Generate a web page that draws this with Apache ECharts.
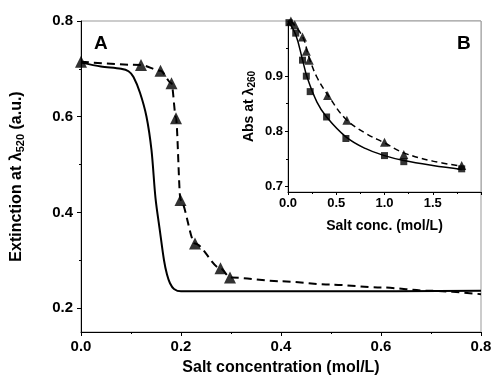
<!DOCTYPE html>
<html>
<head>
<meta charset="utf-8">
<script src="https://cdn.jsdelivr.net/npm/echarts@6/dist/echarts.min.js"></script>
<style>
  html, body { margin: 0; padding: 0; background: #fff; }
  #chart { width: 495px; height: 387px; }
</style>
</head>
<body>
<div id="chart"></div>
<script>
// panel A: extinction vs salt concentration
const mainSolidX = [0, 0.04, 0.08, 0.095, 0.105, 0.118, 0.131, 0.141, 0.149, 0.158, 0.166, 0.172, 0.178, 0.186, 0.2, 0.3, 0.5, 0.8];
const mainSolidY = [0.713, 0.705, 0.700, 0.695, 0.683, 0.65, 0.60, 0.53, 0.43, 0.36, 0.30, 0.27, 0.252, 0.240, 0.235, 0.235, 0.235, 0.236];
const mainTriX = [0, 0.12, 0.159, 0.181, 0.19, 0.199, 0.228, 0.279, 0.298];
const mainTriY = [0.715, 0.708, 0.696, 0.670, 0.597, 0.426, 0.335, 0.283, 0.264];
const mainTailX = [0.4, 0.5, 0.6, 0.7, 0.8];
const mainTailY = [0.256, 0.249, 0.243, 0.236, 0.229];
const mainYTicks = [0.2, 0.4, 0.6, 0.8];
const mainYMinor = [0.3, 0.5, 0.7];

// panel B (inset): absorbance at 260 nm
const insetSqX = [0.01, 0.08, 0.15, 0.19, 0.23, 0.4, 0.6, 1.0, 1.2, 1.8];
const insetSqY = [0.997, 0.978, 0.929, 0.90, 0.872, 0.826, 0.787, 0.756, 0.745, 0.732];
const insetTriX = [0.03, 0.07, 0.15, 0.19, 0.22, 0.41, 0.61, 1.0, 1.2, 1.8];
const insetTriY = [1.0, 0.993, 0.971, 0.945, 0.929, 0.865, 0.820, 0.780, 0.758, 0.738];
const insetFitSolidX = [0.0, 0.08, 0.15, 0.2, 0.3, 0.4, 0.6, 0.8, 1.0, 1.2, 1.5, 1.8];
const insetFitSolidY = [1.0, 0.975, 0.93, 0.897, 0.853, 0.826, 0.790, 0.769, 0.756, 0.747, 0.738, 0.731];
const insetFitDashX = [0.03, 0.15, 0.22, 0.3, 0.42, 0.6, 0.8, 1.0, 1.2, 1.5, 1.8];
const insetFitDashY = [1.0, 0.972, 0.933, 0.898, 0.864, 0.822, 0.797, 0.779, 0.761, 0.746, 0.737];
const insetYTicks = [0.7, 0.8, 0.9];
const insetYMinor = [0.75, 0.85, 0.95];

const zip = (xs, ys) => xs.map((x, i) => [x, ys[i]]);

const font = "'Liberation Sans', Arial, sans-serif";
const black = '#000';
const frame = '#999';

const chart = echarts.init(document.getElementById('chart'));

chart.setOption({
  animation: false,
  textStyle: { fontFamily: font },
  graphic: [
    { type: 'text', left: 94, top: 34, z: 10,
      style: { text: 'A', font: "bold 19px 'Liberation Sans', Arial", fill: black } },
    { type: 'text', left: 457, top: 34, z: 10,
      style: { text: 'B', font: "bold 19px 'Liberation Sans', Arial", fill: black } }
  ],
  grid: [
    { left: 81, top: 21, width: 400, height: 311, show: true, borderColor: frame, borderWidth: 1, backgroundColor: '#fff', z: 0 },
    { left: 288, top: 21, width: 193, height: 171, show: true, borderColor: frame, borderWidth: 1, backgroundColor: '#fff', z: 5 }
  ],
  xAxis: [
    {
      gridIndex: 0, type: 'value', min: 0, max: 0.8, interval: 0.2,
      name: 'Salt concentration (mol/L)', nameLocation: 'middle', nameGap: 28,
      nameTextStyle: { fontSize: 16, fontWeight: 'bold', color: black },
      axisLine: { lineStyle: { color: black, width: 1 } },
      axisTick: { inside: false, length: 4, lineStyle: { color: black } },
      minorTick: { show: true, splitNumber: 2, length: 2, lineStyle: { color: black } },
      axisLabel: { fontSize: 15, fontWeight: 'bold', color: black, margin: 7, formatter: v => v.toFixed(1) },
      splitLine: { show: false }
    },
    {
      gridIndex: 1, type: 'value', min: 0, max: 2, interval: 0.5, z: 6,
      name: 'Salt conc. (mol/L)', nameLocation: 'middle', nameGap: 27,
      nameTextStyle: { fontSize: 14, fontWeight: 'bold', color: black },
      axisLine: { lineStyle: { color: black, width: 1 } },
      axisTick: { length: 3, lineStyle: { color: black } },
      minorTick: { show: true, splitNumber: 2, length: 2, lineStyle: { color: black } },
      axisLabel: { fontSize: 13, fontWeight: 'bold', color: black, margin: 5,
        formatter: v => (v >= 2 ? '' : v.toFixed(1)) },
      splitLine: { show: false }
    }
  ],
  yAxis: [
    {
      gridIndex: 0, type: 'value', position: 'left', min: 0.15, max: 0.8,
      name: 'Extinction at λ{sub|520} (a.u.)', nameLocation: 'middle', nameGap: 55,
      nameTextStyle: {
        fontSize: 16, fontWeight: 'bold', color: black,
        rich: { sub: { fontSize: 11, fontWeight: 'bold', color: black, padding: [7, 0, 0, 0] } }
      },
      axisLine: { lineStyle: { color: black, width: 1 } },
      axisTick: { length: 4, customValues: mainYTicks, lineStyle: { color: black } },
      axisLabel: { fontSize: 15, fontWeight: 'bold', color: black, margin: 8,
        customValues: mainYTicks, formatter: v => v.toFixed(1) },
      splitLine: { show: false }
    },
    {
      gridIndex: 0, type: 'value', position: 'left', min: 0.15, max: 0.8,
      axisLine: { show: false },
      axisTick: { length: 2, customValues: mainYMinor, lineStyle: { color: black } },
      axisLabel: { show: false },
      splitLine: { show: false }
    },
    {
      gridIndex: 1, type: 'value', position: 'left', min: 0.69, max: 1.0, z: 6,
      name: 'Abs at λ{sub|260}', nameLocation: 'middle', nameGap: 31,
      nameTextStyle: {
        fontSize: 14, fontWeight: 'bold', color: black,
        rich: { sub: { fontSize: 10, fontWeight: 'bold', color: black, padding: [6, 0, 0, 0] } }
      },
      axisLine: { lineStyle: { color: black, width: 1 } },
      axisTick: { length: 3, customValues: insetYTicks, lineStyle: { color: black } },
      axisLabel: { fontSize: 13, fontWeight: 'bold', color: black, margin: 5,
        customValues: insetYTicks, formatter: v => v.toFixed(1) },
      splitLine: { show: false }
    },
    {
      gridIndex: 1, type: 'value', position: 'left', min: 0.69, max: 1.0, z: 6,
      axisLine: { show: false },
      axisTick: { length: 2, customValues: insetYMinor, lineStyle: { color: black } },
      axisLabel: { show: false },
      splitLine: { show: false }
    }
  ],
  series: [
    {
      type: 'line', xAxisIndex: 0, yAxisIndex: 0, smooth: 0.3, symbol: 'none', z: 2,
      data: zip(mainSolidX, mainSolidY),
      lineStyle: { color: black, width: 2 }
    },
    {
      type: 'line', xAxisIndex: 0, yAxisIndex: 0, smooth: 0.3, smoothMonotone: 'x', symbol: 'none', z: 2,
      data: zip(mainTriX.concat(mainTailX), mainTriY.concat(mainTailY)),
      lineStyle: { color: black, width: 2, type: [8, 5] }
    },
    {
      type: 'scatter', xAxisIndex: 0, yAxisIndex: 0, symbol: 'triangle', symbolSize: 12, z: 3,
      data: zip(mainTriX, mainTriY), itemStyle: { color: black }
    },
    {
      type: 'line', xAxisIndex: 1, yAxisIndex: 2, smooth: 0.4, symbol: 'none', z: 7,
      data: zip(insetFitSolidX, insetFitSolidY),
      lineStyle: { color: black, width: 1.5 }
    },
    {
      type: 'line', xAxisIndex: 1, yAxisIndex: 2, smooth: 0.4, symbol: 'none', z: 7,
      data: zip(insetFitDashX, insetFitDashY),
      lineStyle: { color: black, width: 1.5, type: [6, 4] }
    },
    {
      type: 'scatter', xAxisIndex: 1, yAxisIndex: 2, symbol: 'rect', symbolSize: 7, z: 8,
      data: zip(insetSqX, insetSqY), itemStyle: { color: black }
    },
    {
      type: 'scatter', xAxisIndex: 1, yAxisIndex: 2, symbol: 'triangle', symbolSize: 9, z: 8,
      data: zip(insetTriX, insetTriY), itemStyle: { color: black }
    }
  ]
});

window.addEventListener('resize', chart.resize);
</script>
</body>
</html>
